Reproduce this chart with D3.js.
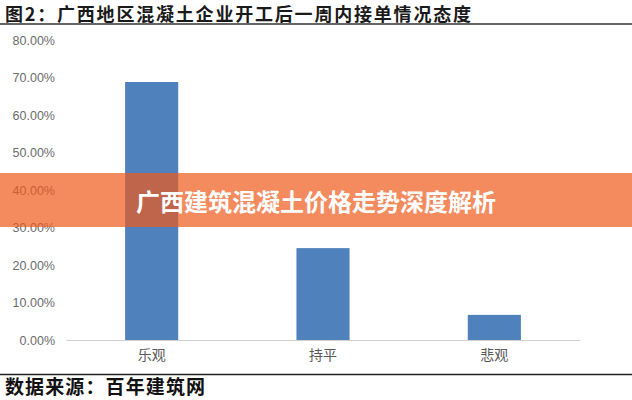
<!DOCTYPE html>
<html>
<head>
<meta charset="utf-8">
<script src="https://cdn.jsdelivr.net/npm/d3@7"></script>
<style>
  body { margin: 0; background: #fff; }
  svg { display: block; }
</style>
</head>
<body>
<div class="canvas"></div>
<script>
// chart data
const categories = ['乐观', '持平', '悲观'];
const values = [0.688, 0.245, 0.067];
const yTicks = [0, 0.1, 0.2, 0.3, 0.4, 0.5, 0.6, 0.7, 0.8];

const titleText = '图2：广西地区混凝土企业开工后一周内接单情况态度';
const bannerText = '广西建筑混凝土价格走势深度解析';
const sourceText = '数据来源：百年建筑网';

const W = 632, H = 400;
const cjk = '"Noto Sans CJK SC", "Noto Sans", sans-serif';

const svg = d3.select('.canvas').append('svg')
    .attr('width', W)
    .attr('height', H);

// title + rule
svg.append('text')
    .attr('x', 5).attr('y', 20.5)
    .attr('font-family', cjk)
    .attr('font-weight', 'bold')
    .attr('font-size', 18)
    .attr('textLength', 466)
    .attr('fill', '#1a1a1a')
    .text(titleText);

svg.append('line')
    .attr('x1', 0).attr('x2', W)
    .attr('y1', 24).attr('y2', 24)
    .attr('stroke', '#333').attr('stroke-width', 1.5);

// scales
const x = d3.scaleBand()
    .domain(categories)
    .range([66, 580])
    .paddingInner(0.69)
    .paddingOuter(0.345);

const y = d3.scaleLinear()
    .domain([0, 0.8])
    .range([340, 40]);

// y axis labels (no axis line)
const yAxis = d3.axisLeft(y)
    .tickValues(yTicks)
    .tickFormat(d3.format('.2%'))
    .tickSize(0)
    .tickPadding(0);

const gy = svg.append('g')
    .attr('transform', 'translate(55,0)')
    .call(yAxis);
gy.select('.domain').remove();
gy.selectAll('text')
    .attr('font-family', '"Liberation Sans", Arial, sans-serif')
    .attr('font-size', 12.5)
    .attr('fill', '#6b6b6b');

// bars
svg.selectAll('rect.bar')
    .data(values)
    .join('rect')
    .attr('class', 'bar')
    .attr('x', (d, i) => x(categories[i]))
    .attr('width', x.bandwidth())
    .attr('y', d => y(d))
    .attr('height', d => y(0) - y(d))
    .attr('fill', '#4f81bd');

// x axis
const xAxis = d3.axisBottom(x).tickSize(0).tickPadding(10);
const gx = svg.append('g')
    .attr('transform', `translate(0,${y(0)})`)
    .call(xAxis);
gx.select('.domain')
    .attr('stroke', '#d0d0d0');
gx.selectAll('text')
    .attr('font-family', cjk)
    .attr('font-size', 14)
    .attr('fill', '#595959');

// bottom rule + source
svg.append('line')
    .attr('x1', 0).attr('x2', W)
    .attr('y1', 374.5).attr('y2', 374.5)
    .attr('stroke', '#222').attr('stroke-width', 1.5);

svg.append('text')
    .attr('x', 5).attr('y', 394)
    .attr('font-family', cjk)
    .attr('font-weight', 'bold')
    .attr('font-size', 19)
    .attr('textLength', 200)
    .attr('fill', '#111')
    .text(sourceText);

// overlay banner
svg.append('rect')
    .attr('x', 0).attr('y', 173)
    .attr('width', W).attr('height', 54)
    .attr('fill', 'rgb(239,90,27)')
    .attr('opacity', 0.7);

svg.append('text')
    .attr('x', 316).attr('y', 200)
    .attr('text-anchor', 'middle')
    .attr('dominant-baseline', 'central')
    .attr('font-family', cjk)
    .attr('font-weight', 'bold')
    .attr('font-size', 24)
    .attr('fill', '#fff')
    .text(bannerText);
</script>
</body>
</html>
